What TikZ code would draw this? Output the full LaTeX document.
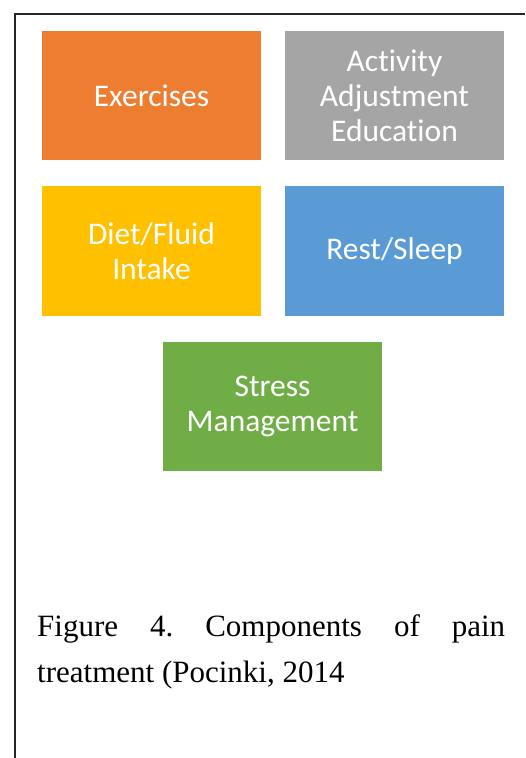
\documentclass[tikz,border=0pt]{standalone}
\usepackage{fontspec}
\setmainfont{Liberation Serif}
\newfontfamily\partfont[Ligatures={NoCommon}]{Carlito}
\usepackage{xcolor}
\usetikzlibrary{positioning}

\definecolor{exOrange}{HTML}{ED7D31}
\definecolor{actGray}{HTML}{A5A5A5}
\definecolor{dietGold}{HTML}{FFC000}
\definecolor{restBlue}{HTML}{5B9BD5}
\definecolor{stressGreen}{HTML}{70AD47}

\frenchspacing
\begin{document}
\begin{tikzpicture}[x=1pt, y=-1pt,
                    part/.style={rectangle, fill=#1, text=white,
                    minimum width=219pt, minimum height=129.5pt,
                    inner sep=0pt, align=center,
                    font=\partfont\fontsize{31.5}{35}\selectfont},
                    caption/.style={text width=468pt, align=justify,
                    inner sep=0pt,
                    font=\fontsize{31}{46}\selectfont}]
    \useasboundingbox (0,0) rectangle (525,758);
    % frame of the figure, cut at the right and bottom
    \coordinate (fr) at (525,14.2);
    \coordinate (ftl) at (15.2,14.2);
    \coordinate (fb) at (15.2,758);
    \draw[line width=1.7pt, black!85] (fr) -- (ftl) -- (fb);

    \node[part=exOrange](exercises) at (151.5,95.5) {Exercises};
    \node[part=actGray](activity) at (394.5,95.5) {Activity\\Adjustment\\Education};
    \node[part=dietGold](diet) at (151.5,251) {Diet/Fluid\\Intake};
    \node[part=restBlue](rest) at (394.5,251) {Rest/Sleep};
    \node[part=stressGreen](stress) at (272.5,406.5) {Stress\\Management};

    \node[caption, anchor=base west](cap) at (37,636)
        {Figure 4. Components of pain\linebreak treatment (Pocinki, 2014};
\end{tikzpicture}
\end{document}
